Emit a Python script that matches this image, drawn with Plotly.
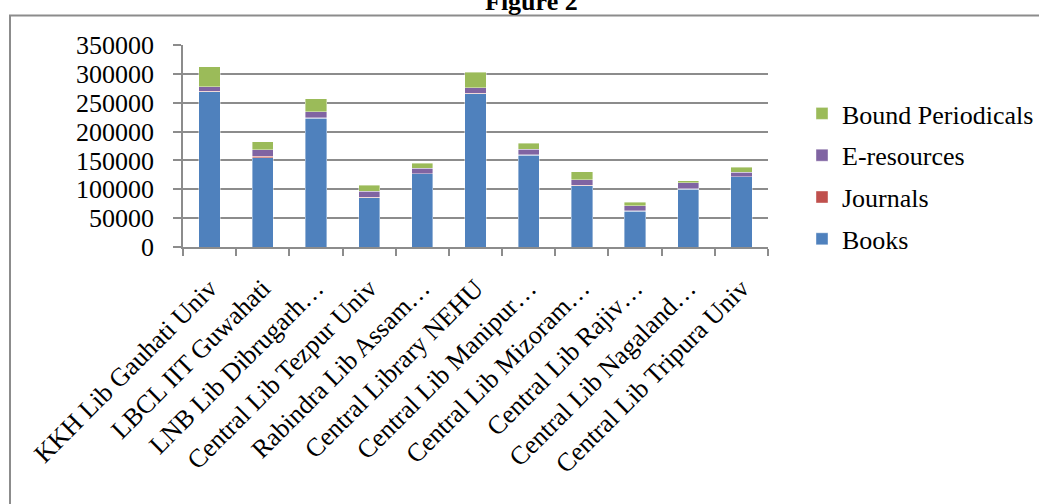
import plotly.graph_objects as go

categories = [
    "KKH Lib Gauhati Univ",
    "LBCL IIT Guwahati",
    "LNB Lib Dibrugarh…",
    "Central Lib Tezpur Univ",
    "Rabindra Lib Assam…",
    "Central Library NEHU",
    "Central Lib Manipur…",
    "Central Lib Mizoram…",
    "Central Lib Rajiv…",
    "Central Lib Nagaland…",
    "Central Lib Tripura Univ",
]
books = [269000, 155000, 223500, 85500, 126500, 265500, 159000, 106000, 62300, 100500, 121300]
journals = [1000, 2500, 500, 500, 500, 700, 800, 800, 600, 500, 500]
e_resources = [7500, 11000, 10500, 11000, 9300, 10000, 9300, 9800, 8700, 9900, 8100]
bound_periodicals = [35000, 13500, 22500, 9800, 9200, 26500, 10400, 13900, 6300, 4000, 8100]

series = [
    ("Books", books, "#4F81BD", 4),
    ("Journals", journals, "#C0504D", 3),
    ("E-resources", e_resources, "#8064A2", 2),
    ("Bound Periodicals", bound_periodicals, "#9BBB59", 1),
]

FONT = "Liberation Serif"
W, H = 1039, 504
L, R, T, B = 183, 768, 45, 247

def px_x(px):
    return (px - L) / (R - L)

def px_y(py):
    return 1 - (py - T) / (B - T)

fig = go.Figure()
for name, vals, color, rank in series:
    fig.add_trace(go.Bar(
        x=categories, y=vals, name=name, legendgroup=name, legendrank=rank,
        marker=dict(color=color, line=dict(color="rgba(255,255,255,0.5)", width=0.8)),
    ))

fig.update_layout(
    width=W, height=H,
    margin=dict(l=L, r=W - R, t=T, b=H - B, autoexpand=False),
    barmode="stack",
    bargap=0.6,
    plot_bgcolor="white",
    paper_bgcolor="white",
    font=dict(family=FONT, size=26, color="black"),
    showlegend=True,
    legend=dict(
        x=px_x(802), xanchor="left",
        y=px_y(90), yanchor="top",
        traceorder="grouped",
        tracegroupgap=5,
        font=dict(family=FONT, size=26, color="black"),
        bgcolor="rgba(0,0,0,0)",
    ),
    xaxis=dict(
        tickangle=-45,
        tickson="boundaries",
        ticks="outside", ticklen=7, tickcolor="#8c8c8c", tickwidth=1.5,
        ticklabelstandoff=14,
        showline=True, linecolor="#8c8c8c", linewidth=1.5,
        showgrid=False, automargin=False,
        tickfont=dict(family=FONT, size=26, color="black"),
    ),
    yaxis=dict(
        range=[0, 350000], dtick=50000, tickformat="d",
        ticks="outside", ticklen=8, tickcolor="#8c8c8c", tickwidth=1.5,
        ticklabelstandoff=14,
        showline=True, linecolor="#8c8c8c", linewidth=1.5,
        showgrid=True, gridcolor="#8c8c8c", gridwidth=1.5,
        zeroline=False, automargin=False,
        tickfont=dict(family=FONT, size=26, color="black"),
    ),
    shapes=[dict(
        type="rect", xref="paper", yref="paper",
        x0=px_x(10), x1=px_x(1060), y0=px_y(520), y1=px_y(15.5),
        line=dict(color="#8c8c8c", width=2), fillcolor="rgba(0,0,0,0)",
        layer="below",
    )],
    annotations=[dict(
        text="<b>Figure 2</b>", xref="paper", yref="paper",
        x=px_x(531), y=px_y(18), xanchor="center", yanchor="bottom",
        showarrow=False, font=dict(family=FONT, size=26, color="black"),
    )],
)

fig.write_html(
    "out.html",
    config={"displayModeBar": False},
    post_script="document.body.style.margin='0';document.body.style.overflow='hidden';",
)
